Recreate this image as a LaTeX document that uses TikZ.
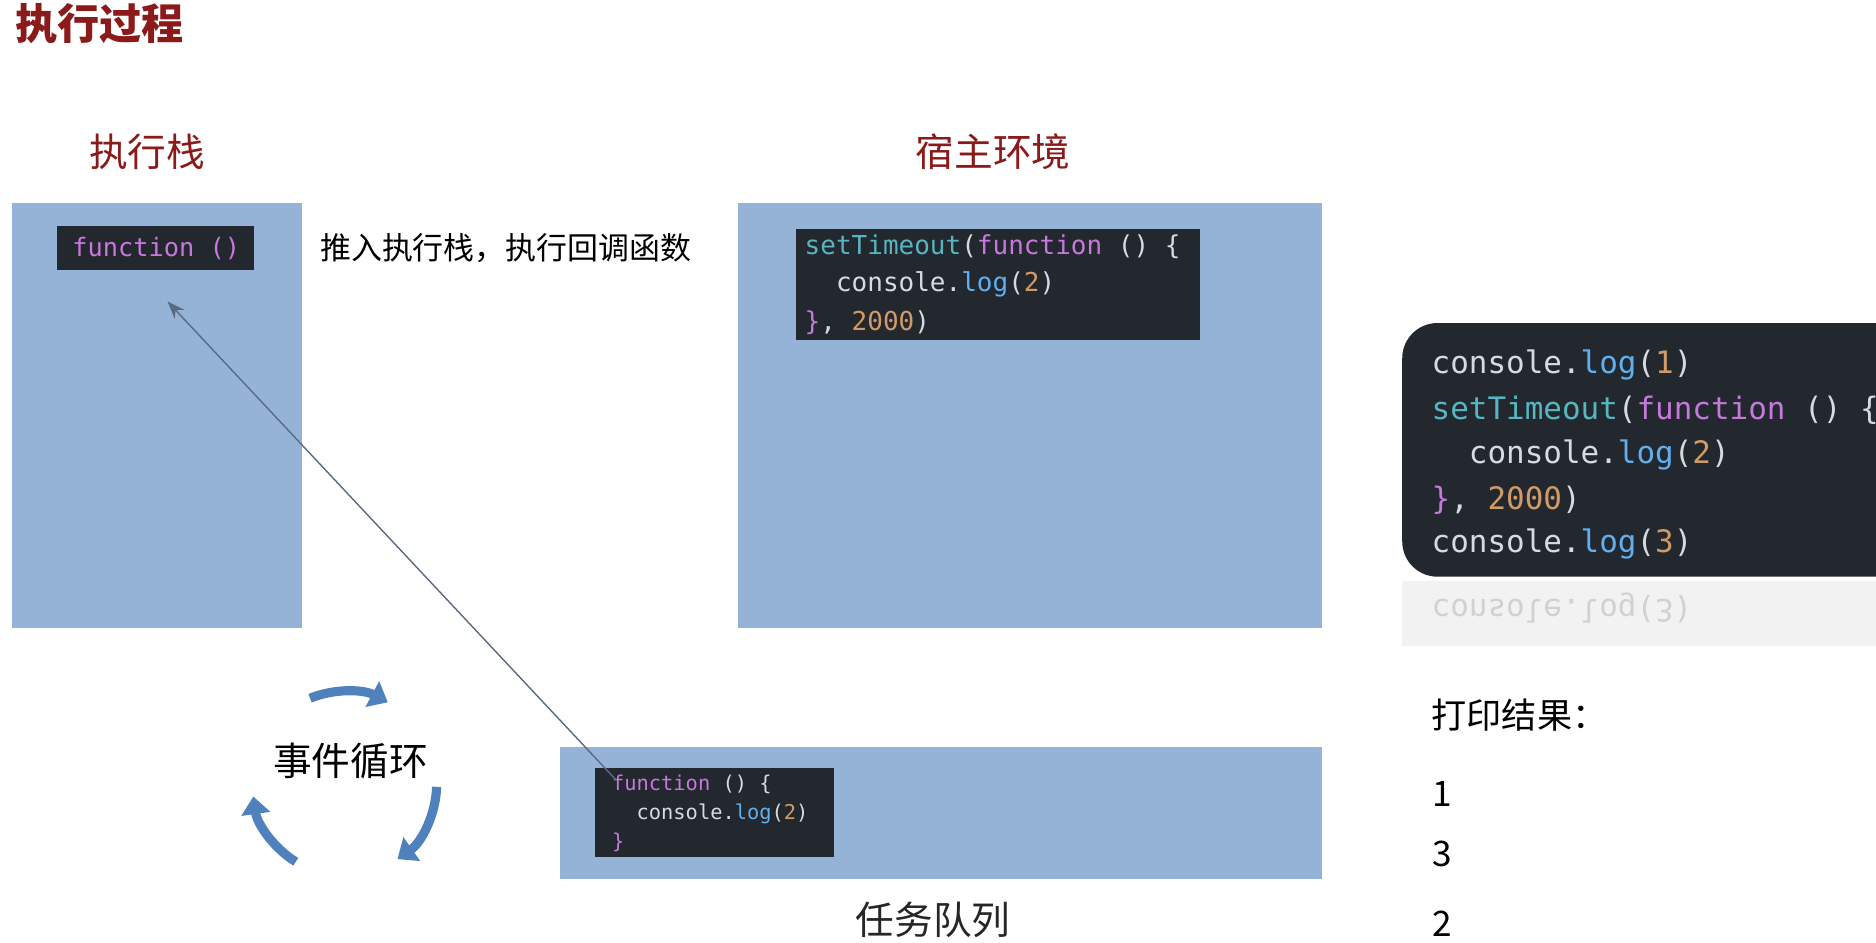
\documentclass[tikz,border=0pt]{standalone}
\usepackage{fontspec}
\setmainfont{Noto Sans CJK SC}
\setmonofont{DejaVu Sans Mono}
\usetikzlibrary{arrows.meta}
\definecolor{zone}{HTML}{95B3D7}
\definecolor{codebg}{HTML}{23272E}
\definecolor{kw}{HTML}{C678DD}
\definecolor{fn}{HTML}{56B6C2}
\definecolor{mt}{HTML}{61AFEF}
\definecolor{num}{HTML}{D19A66}
\definecolor{txt}{HTML}{D7DAE0}
\definecolor{head}{HTML}{8B1A1A}
\definecolor{loopc}{HTML}{4F81BD}
\tikzset{
  zonebox/.style={fill=zone,draw=none},
  codebox/.style={fill=codebg,draw=none},
  heading/.style={text=head,font=\fontsize{11}{13}\selectfont},
  code/.style={anchor=west,inner sep=0pt,text=txt,font=\ttfamily\fontsize{#1}{#1}\selectfont},
  looparrow/.style={loopc,line width=2.6pt,-{Triangle[length=5pt,width=8pt]}}
}
\newcommand{\kwd}[1]{\textcolor{kw}{#1}}
\newcommand{\fnm}[1]{\textcolor{fn}{#1}}
\newcommand{\mtd}[1]{\textcolor{mt}{#1}}
\newcommand{\nmb}[1]{\textcolor{num}{#1}}
\begin{document}
\begin{tikzpicture}[x=0.01196cm,y=-0.01196cm]
  \useasboundingbox[fill=white] (0,0) rectangle (1568,788);

  % headings
  \node[heading,anchor=west,inner sep=0pt,font=\bfseries\fontsize{12}{14}\selectfont] (title) at (12,20) {执行过程};
  \node[heading] (stacklbl) at (123,127) {执行栈};
  \node[heading] (hostlbl) at (830,127) {宿主环境};

  % zones
  \fill[zonebox] (10,170) rectangle (252,525);
  \fill[zonebox] (617,170) rectangle (1105,525);
  \fill[zonebox] (468,624) rectangle (1105,735);

  % stack code
  \fill[codebox] (48,189) rectangle (212,226);
  \node[code=7.2] (stackfn) at (60,208) {\kwd{function ()}};
  \node[anchor=west,inner sep=0pt,font=\fontsize{8.8}{10}\selectfont] (pushtxt) at (267,207) {推入执行栈，执行回调函数};

  % host code
  \fill[codebox] (665,191) rectangle (1003,284);
  \node[code=7.4] (h1) at (672,206) {\fnm{setTimeout}(\kwd{function} () \{};
  \node[code=7.4] (h2) at (672,238) {\ \ console.\mtd{log}(\nmb{2})};
  \node[code=7.4] (h3) at (672,270) {\kwd{\}}, \nmb{2000})};

  % queue code
  \fill[codebox] (497,642) rectangle (697,716);
  \node[code=5.8] (q1) at (511,656) {\kwd{function} () \{};
  \node[code=5.8] (q2) at (511,680) {\ \ console.\mtd{log}(\nmb{2})};
  \node[code=5.8] (q3) at (511,704) {\kwd{\}}};
  \node[font=\fontsize{11}{13}\selectfont,text=black!85,anchor=south,inner sep=1pt] (queuelbl) at (780,787) {任务队列};

  % callback into stack
  \coordinate (qstart) at (515,652);
  \coordinate (sEnd) at (140,252);
  \draw[black!40!zone,thin,-{Stealth[length=5pt]}] (qstart) -- (sEnd);

  % full program
  \fill[codebox,rounded corners=10pt] (1172,270) rectangle (1600,482);
  \node[code=8.8] (p1) at (1196,305) {console.\mtd{log}(\nmb{1})};
  \node[code=8.8] (p2) at (1196,343) {\fnm{setTimeout}(\kwd{function} () \{};
  \node[code=8.8] (p3) at (1196,380) {\ \ console.\mtd{log}(\nmb{2})};
  \node[code=8.8] (p4) at (1196,418) {\kwd{\}}, \nmb{2000})};
  \node[code=8.8] (p5) at (1196,455) {console.\mtd{log}(\nmb{3})};
  \fill[black!5] (1172,486) rectangle (1568,540);
  \node[code=8.8,yscale=-1,text=black!18] (p5r) at (1196,508) {console.log(3)};

  % output
  \node[anchor=west,inner sep=0pt,font=\fontsize{10}{12}\selectfont] (outlbl) at (1196,598) {打印结果：};
  \node[anchor=west,inner sep=0pt,font=\fontsize{10}{12}\selectfont] (o1) at (1197,664) {1};
  \node[anchor=west,inner sep=0pt,font=\fontsize{10}{12}\selectfont] (o3) at (1197,714) {3};
  \node[anchor=west,inner sep=0pt,font=\fontsize{10}{12}\selectfont] (o2) at (1197,772) {2};

  % event loop
  \node[font=\fontsize{11}{13}\selectfont] (looplbl) at (293,636) {事件循环};
  \coordinate (lc) at (288,655);
  \draw[looparrow] ([shift={(-112:77)}]lc) arc[start angle=-112,end angle=-62,radius=77];
  \draw[looparrow] ([shift={(2:77)}]lc) arc[start angle=2,end angle=55,radius=77];
  \draw[looparrow] ([shift={(122:77)}]lc) arc[start angle=122,end angle=172,radius=77];
\end{tikzpicture}
\end{document}
